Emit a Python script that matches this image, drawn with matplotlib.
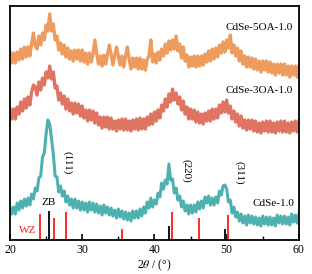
import numpy as np
import matplotlib
matplotlib.use('Agg')
import matplotlib.pyplot as plt

plt.rcParams['font.family'] = ['Liberation Serif', 'DejaVu Serif']
plt.rcParams['mathtext.fontset'] = 'stix'

# 2theta grid, 0.25 deg steps from 20 to 60
two_theta = np.arange(20, 60.001, 0.25)

cdse_10 = [
    33, 26, 33, 26,  37, 30, 39, 32,  41, 34, 42, 35,  46, 41, 52, 49,
    62, 64, 83, 87,  106, 120, 116, 101,  86, 64, 63, 48,  54, 44, 49, 38,
    44, 35, 41, 32,  41, 32, 39, 30,  38, 30, 37, 28,  38, 30, 37, 28,
    36, 27, 34, 25,  35, 27, 33, 25,  32, 24, 30, 22,  31, 23, 29, 21,
    28, 20, 27, 19,  29, 22, 29, 22,  31, 24, 33, 27,  38, 32, 42, 33,
    40, 36, 47, 43,  57, 51, 60, 56,  76, 60, 61, 47,  52, 40, 44, 33,
    39, 29, 35, 26,  35, 27, 35, 28,  38, 31, 39, 32,  43, 37, 44, 35,
    42, 35, 43, 37,  49, 45, 54, 55,  51, 38, 40, 27,  33, 23, 28, 19,
    26, 17, 24, 15,  25, 17, 24, 16,  23, 15, 22, 14,  24, 16, 23, 15,
    23, 15, 22, 14,  25, 17, 24, 16,  24, 16, 23, 15,  26, 18, 25, 17,
    26]

cdse_3oa = [
    131, 121, 131, 121,  133, 126, 138, 129,  141, 132, 143, 135,  148, 155, 153, 145,
    158, 150, 162, 155,  168, 162, 174, 161,  168, 152, 154, 140,  147, 136, 144, 131,
    141, 129, 137, 126,  137, 127, 136, 124,  134, 122, 130, 119,  130, 120, 129, 117,
    127, 115, 123, 112,  123, 113, 123, 111,  122, 111, 119, 109,  120, 111, 121, 110,
    121, 110, 119, 109,  120, 111, 121, 110,  122, 111, 121, 111,  123, 115, 126, 116,
    128, 119, 130, 122,  135, 129, 141, 133,  146, 138, 151, 140,  147, 136, 143, 130,
    139, 126, 133, 121,  131, 121, 130, 118,  128, 117, 126, 116,  127, 119, 129, 119,
    131, 121, 131, 122,  135, 127, 138, 128,  140, 127, 134, 121,  129, 118, 126, 114,
    124, 112, 120, 110,  120, 111, 120, 109,  119, 108, 117, 107,  118, 109, 119, 108,
    119, 108, 117, 107,  118, 109, 119, 108,  119, 108, 117, 107,  118, 109, 119, 108,
    119]

cdse_5oa = [
    188, 177, 187, 177,  188, 180, 191, 181,  193, 183, 193, 184,  197, 207, 194, 191,
    204, 195, 207, 200,  215, 209, 226, 209,  216, 200, 204, 190,  197, 186, 195, 183,
    192, 181, 189, 179,  190, 181, 190, 179,  190, 178, 187, 176,  187, 178, 186, 200,
    187, 176, 184, 174,  185, 176, 186, 195,  186, 175, 184, 193,  184, 175, 184, 173,
    184, 193, 181, 171,  182, 173, 182, 171,  182, 171, 180, 170,  181, 184, 200, 178,
    186, 177, 188, 180,  191, 184, 196, 187,  199, 190, 200, 191,  204, 189, 196, 182,
    193, 179, 185, 173,  183, 174, 184, 173,  184, 174, 184, 175,  186, 178, 189, 179,
    191, 181, 192, 183,  195, 187, 198, 188,  200, 192, 205, 187,  195, 184, 192, 179,
    189, 176, 184, 173,  183, 173, 182, 171,  181, 170, 179, 168,  179, 170, 179, 168,
    178, 167, 176, 165,  176, 167, 176, 165,  176, 165, 174, 163,  174, 165, 174, 163,
    174]

# reference patterns (position, stick height)
zb_pos = [25.4, 42.0, 49.8]
zb_height = [29, 14, 11]
wz_pos = [24.1, 26.1, 27.75, 35.5, 42.4, 46.2, 50.2]
wz_height = [26, 22, 28, 11, 28, 22, 25]

c_orange = '#EE9B5E'
c_red = '#E07462'
c_teal = '#4DB1AF'

fig = plt.figure(figsize=(3.12, 2.74), dpi=100)
ax = fig.add_axes([0.032, 0.124, 0.926, 0.854])

ax.plot(two_theta, cdse_5oa, color=c_orange, lw=2.4)
ax.plot(two_theta, cdse_3oa, color=c_red, lw=2.4)
ax.plot(two_theta, cdse_10, color=c_teal, lw=2.2)

ax.vlines(wz_pos, 0, wz_height, color='#FF1A1A', lw=1.3)
ax.vlines(zb_pos, 0, zb_height, color='black', lw=1.3)

ax.set_xlim(20, 60)
ax.set_ylim(0, 234)
ax.set_yticks([])
ax.set_xticks([20, 30, 40, 50, 60])
ax.set_xticks([25, 35, 45, 55], minor=True)
ax.tick_params(axis='x', which='major', direction='in', length=4, width=1.2, labelsize=8.5, pad=3)
ax.tick_params(axis='x', which='minor', direction='in', length=3, width=1.0)
for s in ax.spines.values():
    s.set_linewidth(1.3)

ax.set_xlabel(r'2$\mathit{\theta}$ / (°)', fontsize=8.5, labelpad=1)

ax.text(59.2, 213, 'CdSe-5OA-1.0', fontsize=8, ha='right', va='center')
ax.text(59.2, 150, 'CdSe-3OA-1.0', fontsize=8, ha='right', va='center')
ax.text(59.4, 37, 'CdSe-1.0', fontsize=8, ha='right', va='center')
ax.text(28.0, 77, '(111)', fontsize=8, rotation=-90, ha='center', va='center')
ax.text(44.4, 69, '(220)', fontsize=8, rotation=-90, ha='center', va='center')
ax.text(51.7, 67, '(311)', fontsize=8, rotation=-90, ha='center', va='center')
ax.text(25.4, 38, 'ZB', fontsize=8, ha='center', va='center')
ax.text(22.5, 10, 'WZ', fontsize=8, color='#FF1A1A', ha='center', va='center')

fig.savefig('out.png', dpi=100)
